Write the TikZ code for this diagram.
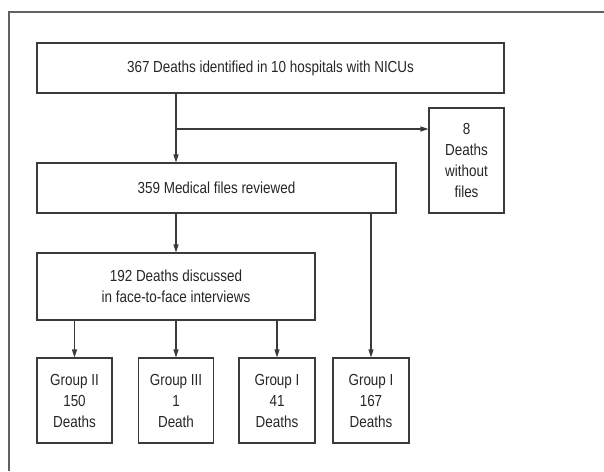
\documentclass[tikz,border=0pt]{standalone}
\usepackage{fontspec}
\setmainfont[FakeStretch=0.84]{Liberation Sans}
\usetikzlibrary{arrows.meta}
\definecolor{ln}{HTML}{3A3A3A}
\begin{document}
\begin{tikzpicture}[x=1pt,y=1pt,
  box/.style={draw=ln, line width=1.1pt, inner sep=0pt, align=center, font=\fontsize{16}{21}\selectfont, text=black!85},
  arr/.style={draw=ln, line width=1.1pt, -{Triangle[length=8pt,width=5pt]}},
  frameline/.style={draw=ln!80, line width=1.4pt}]
\useasboundingbox (0,0) rectangle (604,-471);
\draw[frameline] (604,-12) -- (9,-12) -- (9,-471);
\node[box, minimum width=467pt, minimum height=50pt] (top) at (270.5,-68) {367 Deaths identified in 10 hospitals with NICUs};
\node[box, minimum width=75pt, minimum height=105pt] (eight) at (466.5,-160.5) {8\\Deaths\\without\\files};
\node[box, minimum width=359pt, minimum height=50pt] (rev) at (216.5,-188) {359 Medical files reviewed};
\node[box, minimum width=278pt, minimum height=67pt] (disc) at (176,-286.5) {192 Deaths discussed\\in face-to-face interviews};
\node[box, minimum width=75pt, minimum height=85pt] (gA) at (74.5,-400.5) {Group II\\150\\Deaths};
\node[box, minimum width=75pt, minimum height=85pt] (gB) at (176,-400.5) {Group III\\1\\Death};
\node[box, minimum width=76pt, minimum height=85pt] (gC) at (277,-400.5) {Group I\\41\\Deaths};
\node[box, minimum width=76pt, minimum height=85pt] (gD) at (371,-400.5) {Group I\\167\\Deaths};
\coordinate (br) at (176,-129);
\draw[arr] (top.south -| disc) -- (rev.north -| disc);
\draw[arr] (br) -- (br -| eight.west);
\draw[arr] (rev.south -| disc) -- (disc.north);
\draw[arr] (rev.south -| gD) -- (gD.north);
\draw[arr] (disc.south -| gA) -- (gA.north);
\draw[arr] (disc.south -| gB) -- (gB.north);
\draw[arr] (disc.south -| gC) -- (gC.north);
\end{tikzpicture}
\end{document}
